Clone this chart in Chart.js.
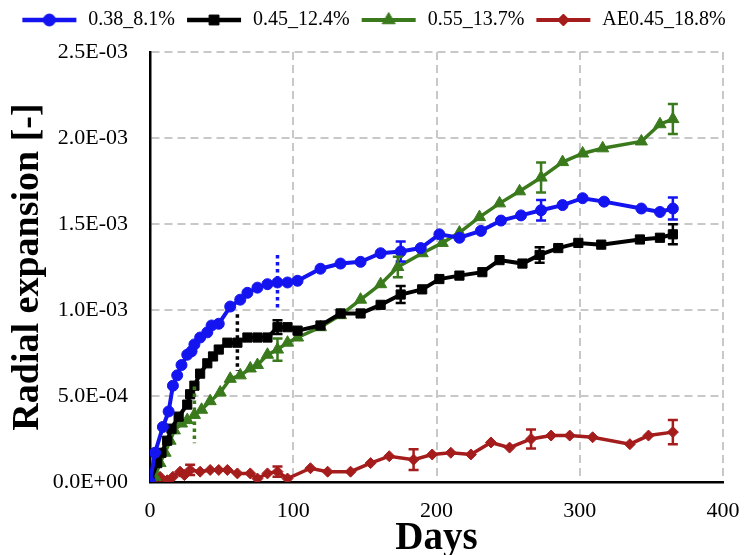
<!DOCTYPE html>
<html><head><meta charset="utf-8">
<script src="https://cdn.jsdelivr.net/npm/chart.js@4.4.0/dist/chart.umd.min.js"></script>
<style>html,body{margin:0;padding:0;background:#fff;} canvas{display:block;}</style>
</head><body>
<canvas id="c" width="746" height="555"></canvas>
<script>
// values are in units of 1e-3 (radial expansion)
const UNIT = 1e-3;
const seriesNames = ['0.38_8.1%', '0.45_12.4%', '0.55_13.7%', 'AE0.45_18.8%'];
const xTicks = [0, 100, 200, 300, 400];
const yTicks = [0, 0.5, 1.0, 1.5, 2.0, 2.5];

const blueDays = [0, 3.5, 9, 13, 16, 19, 22, 26, 29, 31, 35, 40, 43, 48, 56, 63, 68, 75, 82, 89, 96, 103, 119, 133, 147, 161, 175, 189, 202, 216, 231, 245, 259, 273, 288, 302, 317, 343, 356, 365];
const blueVals = [0, 0.17, 0.32, 0.41, 0.56, 0.62, 0.68, 0.74, 0.76, 0.80, 0.84, 0.87, 0.91, 0.92, 1.02, 1.06, 1.10, 1.13, 1.15, 1.16, 1.16, 1.17, 1.24, 1.27, 1.28, 1.33, 1.34, 1.36, 1.44, 1.42, 1.46, 1.52, 1.55, 1.58, 1.61, 1.65, 1.63, 1.59, 1.57, 1.59];
const blueErr = [[175, 0.058], [273, 0.06], [365, 0.064]];
const blueDotted = [[89, 0.16]];

const blackDays = [0, 5, 8, 12, 15, 20, 26, 28, 31, 35, 40, 44, 48, 54, 61, 68, 75, 82, 89, 96, 103, 119, 133, 147, 161, 175, 190, 202, 216, 232, 244, 260, 272, 285, 299, 315, 342, 356, 365];
const blackVals = [0, 0.11, 0.17, 0.24, 0.31, 0.38, 0.45, 0.51, 0.56, 0.63, 0.69, 0.73, 0.77, 0.81, 0.81, 0.84, 0.84, 0.84, 0.90, 0.90, 0.88, 0.91, 0.98, 0.98, 1.03, 1.09, 1.12, 1.18, 1.20, 1.22, 1.29, 1.27, 1.32, 1.36, 1.39, 1.38, 1.41, 1.42, 1.44];
const blackErr = [[89, 0.04], [175, 0.05], [272, 0.045], [365, 0.058]];
const blackDotted = [[61, 0.165]];

const greenDays = [0, 3.5, 7, 10.5, 14, 17, 22, 26, 31, 36, 42, 49, 56, 63, 70, 75, 82, 89, 96, 103, 119, 133, 147, 161, 173, 190, 204, 216, 230, 244, 258, 273, 288, 302, 316, 343, 356, 365];
const greenVals = [0, 0.03, 0.11, 0.17, 0.24, 0.30, 0.34, 0.36, 0.39, 0.42, 0.47, 0.52, 0.60, 0.62, 0.66, 0.68, 0.74, 0.77, 0.81, 0.84, 0.90, 0.97, 1.06, 1.15, 1.25, 1.33, 1.39, 1.45, 1.54, 1.62, 1.69, 1.77, 1.86, 1.91, 1.94, 1.98, 2.08, 2.11];
const greenErr = [[89, 0.065], [173, 0.06], [273, 0.087], [365, 0.087]];
const greenDotted = [[31, 0.165]];

const redDays = [0, 2, 7, 12, 16, 21, 24, 28, 35, 42, 48, 54, 61, 70, 75, 82, 89, 96, 112, 124, 140, 154, 167, 184, 197, 210, 224, 238, 251, 266, 280, 293, 309, 335, 348, 365];
const redVals = [0, 0.01, 0.03, 0.01, 0.03, 0.06, 0.04, 0.07, 0.06, 0.07, 0.07, 0.07, 0.05, 0.05, 0.02, 0.05, 0.06, 0.02, 0.08, 0.06, 0.06, 0.11, 0.15, 0.13, 0.16, 0.17, 0.16, 0.23, 0.20, 0.25, 0.27, 0.27, 0.26, 0.22, 0.27, 0.29];
const redErr = [[28, 0.03], [89, 0.03], [184, 0.06], [266, 0.055], [365, 0.07]];
const redDotted = [];

const FONT = "'Liberation Serif', 'Times New Roman', serif";
Chart.defaults.font.family = FONT;
Chart.defaults.color = '#000';

function toPoints(days, vals) { return days.map((d, i) => ({x: d, y: vals[i] * UNIT})); }

function fmtExp(v) {
  if (Math.abs(v) < 1e-12) return '0.0E+00';
  let e = Math.floor(Math.log10(Math.abs(v)) + 1e-9);
  let m = v / Math.pow(10, e);
  let s = m.toFixed(1);
  if (s === '10.0') { e += 1; s = '1.0'; }
  return s + 'E' + (e < 0 ? '-' : '+') + String(Math.abs(e)).padStart(2, '0');
}

const styles = [
  {color: '#1414F0', pointStyle: 'circle', radius: 5.5, width: 4},
  {color: '#000000', pointStyle: 'rect', radius: 6.5, width: 4},
  {color: '#3A7A1C', pointStyle: 'triangle', radius: 7, width: 3.5},
  {color: '#A51C1C', pointStyle: 'rectRot', radius: 5.5, width: 3.5}
];

function legendIcon(st) {
  const cv = document.createElement('canvas');
  cv.width = 58; cv.height = 20;
  const c = cv.getContext('2d');
  c.strokeStyle = st.color; c.fillStyle = st.color; c.lineWidth = st.width + 0.5;
  c.beginPath(); c.moveTo(2, 10); c.lineTo(56, 10); c.stroke();
  c.lineWidth = 1;
  Chart.helpers.drawPoint(c, {pointStyle: st.pointStyle, radius: st.radius + 0.5, borderWidth: 1, rotation: 0}, 29, 10);
  return cv;
}

const allDays = [blueDays, blackDays, greenDays, redDays];
const allVals = [blueVals, blackVals, greenVals, redVals];
const allErr = [blueErr, blackErr, greenErr, redErr];
const allDotted = [blueDotted, blackDotted, greenDotted, redDotted];

const datasets = seriesNames.map((name, i) => ({
  label: name,
  data: toPoints(allDays[i], allVals[i]),
  borderColor: styles[i].color,
  backgroundColor: styles[i].color,
  pointBackgroundColor: styles[i].color,
  pointBorderColor: styles[i].color,
  pointStyle: styles[i].pointStyle,
  pointRadius: styles[i].radius,
  pointBorderWidth: 1,
  borderWidth: styles[i].width,
  tension: 0,
  errorBars: allErr[i],
  dottedBars: allDotted[i]
}));

const errorBarPlugin = {
  id: 'errorBars',
  afterDatasetsDraw(chart) {
    const ctx = chart.ctx, xs = chart.scales.x, ys = chart.scales.y;
    chart.data.datasets.forEach((ds, i) => {
      const draw = (list, dotted) => {
        (list || []).forEach(([day, err]) => {
          const pt = ds.data.find(p => p.x === day);
          if (!pt) return;
          const px = xs.getPixelForValue(day);
          const top = ys.getPixelForValue(pt.y + err * UNIT);
          const bot = ys.getPixelForValue(pt.y - err * UNIT);
          ctx.save();
          ctx.strokeStyle = ds.borderColor;
          ctx.lineWidth = dotted ? 3.5 : 2.5;
          ctx.setLineDash(dotted ? [3.5, 3.5] : []);
          ctx.beginPath();
          ctx.moveTo(px, top); ctx.lineTo(px, bot);
          if (!dotted) {
            ctx.moveTo(px - 5, top); ctx.lineTo(px + 5, top);
            ctx.moveTo(px - 5, bot); ctx.lineTo(px + 5, bot);
          }
          ctx.stroke();
          ctx.restore();
        });
      };
      draw(ds.errorBars, false);
      draw(ds.dottedBars, true);
    });
  }
};

// give the legend box extra height so the plot area starts lower
const legendSpacer = {
  id: 'legendSpacer',
  afterInit(chart) {
    const lg = chart.legend;
    if (!lg || lg._spaced) return;
    const orig = lg.fit.bind(lg);
    lg.fit = function () { orig(); this.height += 12; };
    lg._spaced = true;
  }
};

new Chart(document.getElementById('c'), {
  type: 'line',
  data: {datasets},
  plugins: [errorBarPlugin, legendSpacer],
  options: {
    responsive: false,
    animation: false,
    devicePixelRatio: 1,
    layout: {padding: {left: 0, right: 0, top: 0, bottom: 0}},
    plugins: {
      tooltip: {enabled: false},
      legend: {
        position: 'top',
        labels: {
          font: {size: 20, family: FONT},
          color: '#000',
          padding: 10,
          usePointStyle: true,
          pointStyleWidth: 58,
          generateLabels: (chart) => chart.data.datasets.map((ds, i) => ({
            text: ds.label,
            pointStyle: legendIcon(styles[i]),
            fillStyle: styles[i].color,
            strokeStyle: styles[i].color,
            lineWidth: 0,
            hidden: false,
            datasetIndex: i
          }))
        }
      }
    },
    scales: {
      x: {
        type: 'linear',
        min: 0, max: 400,
        afterBuildTicks: (s) => { s.ticks = xTicks.map(v => ({value: v})); },
        ticks: {font: {size: 22, family: FONT}, color: '#000', padding: 16, maxRotation: 0},
        grid: {color: '#C8C8C8', lineWidth: 2, drawTicks: false},
        border: {display: true, color: '#000', width: 2.5, dash: [8, 5]},
        title: {display: true, text: 'Days', font: {size: 39, weight: 'bold', family: FONT, lineHeight: 0.8}, color: '#000', padding: {top: 0, bottom: 0}},
        afterFit: (s) => { s.height = 73; s.paddingRight = 23; }
      },
      y: {
        type: 'linear',
        min: 0, max: 2.5 * UNIT,
        afterBuildTicks: (s) => { s.ticks = yTicks.map(v => ({value: v * UNIT})); },
        ticks: {font: {size: 22, family: FONT}, color: '#000', padding: 22, callback: (v) => fmtExp(v)},
        grid: {color: '#C8C8C8', lineWidth: 2, drawTicks: false},
        border: {display: true, color: '#000', width: 2.5, dash: [8, 5]},
        title: {display: true, text: 'Radial expansion [-]', font: {size: 38, weight: 'bold', family: FONT}, color: '#000', padding: {top: 5, bottom: 0}},
        afterFit: (s) => { s.width = 150; }
      }
    }
  }
});
</script>
</body></html>
